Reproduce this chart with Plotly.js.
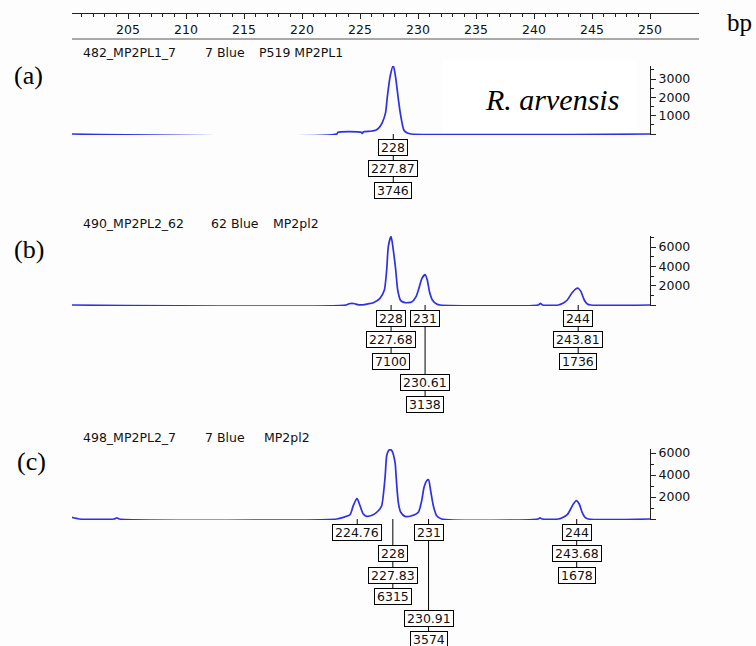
<!DOCTYPE html>
<html><head><meta charset="utf-8">
<script src="https://cdn.plot.ly/plotly-3.0.1.min.js"></script>
<style>html,body{margin:0;padding:0;background:#fdfdfd}</style>
</head><body><div id="chart" style="width:756px;height:646px"></div>
<script>
// ---------------- data ----------------
const rulerTicks = [205, 210, 215, 220, 225, 230, 235, 240, 245, 250];

// (a) 482_MP2PL1_7
const headerA = ['482_MP2PL1_7', '7 Blue', 'P519 MP2PL1'];
const traceXA = [200.17, 223.0, 223.1, 225.1, 225.2, 225.3, 225.9, 226.35, 226.65, 226.92, 227.2, 227.36, 227.6, 227.87, 228.08, 228.28, 228.5, 228.78, 229.08, 229.4, 250.0];
const traceYA = [0, 0, 100, 100, 30, 120, 150, 200, 350, 620, 1150, 2050, 3150, 3746, 3050, 2030, 1040, 220, 50, 0, 0];
const sizesA = [227.87];
const binsA = ['228'];
const heightsA = [3746];
const yTicksA = [0, 1000, 2000, 3000];
const yMinorA = [500, 1500, 2500, 3500];

// (b) 490_MP2PL2_62
const headerB = ['490_MP2PL2_62', '62 Blue', 'MP2pl2'];
const traceXB = [200.17, 223.8, 224.05, 224.3, 224.55, 224.8, 225.2, 225.7, 226.15, 226.72, 227.1, 227.3, 227.44, 227.68, 227.87, 228.08, 228.25, 228.51, 228.88, 229.46, 229.83, 230.12, 230.34, 230.61, 230.8, 230.99, 231.24, 231.61, 231.9, 240.35, 240.55, 240.75, 242.1, 242.45, 242.87, 243.25, 243.55, 243.81, 244.05, 244.33, 244.6, 244.9, 250.0];
const traceYB = [0, 0, 130, 170, 130, 30, 20, 120, 240, 690, 1550, 3620, 6030, 7100, 5690, 3620, 1550, 450, 240, 310, 860, 1900, 2760, 3138, 2590, 1380, 520, 100, 0, 0, 170, 0, 0, 150, 520, 1210, 1620, 1736, 1380, 520, 100, 0, 0];
const sizesB = [227.68, 230.61, 243.81];
const binsB = ['228', '231', '244'];
const heightsB = [7100, 3138, 1736];
const yTicksB = [0, 2000, 4000, 6000];
const yMinorB = [1000, 3000, 5000, 7000];

// (c) 498_MP2PL2_7
const headerC = ['498_MP2PL2_7', '7 Blue', 'MP2pl2'];
const traceXC = [200.17, 200.8, 203.8, 204.03, 204.25, 223.0, 223.56, 224.14, 224.42, 224.74, 225.0, 225.28, 225.57, 226.09, 226.58, 226.87, 227.16, 227.3, 227.45, 227.6, 227.75, 228.02, 228.16, 228.3, 228.51, 228.88, 229.46, 230.03, 230.32, 230.52, 230.75, 230.91, 231.09, 231.32, 231.61, 232.04, 240.35, 240.52, 240.7, 242.1, 242.39, 242.87, 243.16, 243.39, 243.65, 243.9, 244.15, 244.4, 244.68, 250.0];
const traceYC = [150, 0, 0, 100, 0, 0, 150, 390, 1210, 1880, 1210, 450, 240, 360, 750, 1210, 3790, 5750, 6200, 6315, 6200, 5150, 3180, 1520, 610, 240, 300, 610, 1660, 2880, 3480, 3574, 2570, 1210, 300, 0, 0, 100, 0, 0, 90, 390, 910, 1360, 1678, 1360, 610, 140, 0, 0];
const sizesC = [224.76, 227.83, 230.91, 243.68];
const binsC = [null, '228', '231', '244'];
const heightsC = [null, 6315, 3574, 1678];
const yTicksC = [0, 2000, 4000, 6000];
const yMinorC = [1000, 3000, 5000];

const panelLetters = ['(a)', '(b)', '(c)'];
const speciesLabel = 'R. arvensis';
const unitLabel = 'bp';

// ---------------- layout helpers ----------------
const W = 756, H = 646;
const fx = px => px / W;
const fy = px => 1 - px / H;
const bpAt = px => 205 + (px - 128) / 11.6;

const SMALL = {family: 'DejaVu Sans, sans-serif', size: 12.5, color: '#111'};
const SERIF = 'Liberation Serif, Times New Roman, serif';
const LINE = '#2f2fe6';
const AXC = '#222';

// panel geometry (rows: [bin, size, height] label row indices)
const panels = [
  {axis: 'y2', base: 134, per1000: 18.33, top: 66, headerY: 52, headerX: [81, 203, 257], letterXY: [28, 75],
   tx: traceXA, ty: traceYA, sizes: sizesA, bins: binsA, heights: heightsA, header: headerA,
   ticks: yTicksA, minor: yMinorA, rows: [[0, 1, 2]]},
  {axis: 'y3', base: 305, per1000: 9.667, top: 236, headerY: 223, headerX: [81, 209, 271], letterXY: [29, 249],
   tx: traceXB, ty: traceYB, sizes: sizesB, bins: binsB, heights: heightsB, header: headerB,
   ticks: yTicksB, minor: yMinorB, rows: [[0, 1, 2], [0, 3, 4], [0, 1, 2]]},
  {axis: 'y4', base: 519, per1000: 11.0, top: 449, headerY: 437, headerX: [81, 203, 262], letterXY: [31, 461],
   tx: traceXC, ty: traceYC, sizes: sizesC, bins: binsC, heights: heightsC, header: headerC,
   ticks: yTicksC, minor: yMinorC, rows: [[null, 0, null], [1, 2, 3], [0, 4, 5], [0, 1, 2]]}
];

const ROW0 = 13.3, ROWSTEP = 21.5;

const data = [];
const annotations = [];
const shapes = [];
const layout = {
  width: W, height: H,
  margin: {l: 0, r: 0, t: 0, b: 0},
  paper_bgcolor: '#fdfdfd', plot_bgcolor: 'rgba(0,0,0,0)',
  showlegend: false,
  xaxis: {
    domain: [fx(72), fx(699)], range: [bpAt(72), bpAt(699)],
    anchor: 'free', position: fy(13), side: 'bottom',
    showline: true, linecolor: AXC, linewidth: 1,
    ticks: 'outside', ticklen: 5, tickcolor: AXC, tickwidth: 1,
    tickmode: 'array', tickvals: rulerTicks, ticktext: rulerTicks.map(String),
    minor: {tickmode: 'array', tickvals: [], ticks: 'outside', ticklen: 3, tickcolor: AXC, tickwidth: 1, showgrid: false},
    showgrid: false, zeroline: false, tickfont: SMALL, fixedrange: true
  },
  annotations, shapes
};
// minor ruler ticks every 1 bp between first and last major tick
for (let v = rulerTicks[0] - 4; v <= rulerTicks[rulerTicks.length - 1]; v++) {
  if (rulerTicks.indexOf(v) < 0) layout.xaxis.minor.tickvals.push(v);
}

// line under the ruler
shapes.push({type: 'line', xref: 'paper', yref: 'paper', x0: fx(72), x1: fx(699), y0: fy(39), y1: fy(39),
  line: {color: '#555', width: 1}});

panels.forEach((p, i) => {
  const unitsPerPx = 1000 / p.per1000;
  const lo = -unitsPerPx * 1;
  const hi = (p.base - p.top) * unitsPerPx;
  const ax = 'yaxis' + p.axis.slice(1);
  layout[ax] = {
    domain: [fy(p.base + 1), fy(p.top)], range: [lo, hi],
    anchor: 'free', position: fx(650), side: 'right',
    showline: true, linecolor: AXC, linewidth: 1,
    ticks: 'outside', ticklen: 5, tickcolor: AXC,
    tickmode: 'array', tickvals: p.ticks, ticktext: p.ticks.map(v => v === 0 ? '' : String(v)),
    minor: {tickmode: 'array', tickvals: p.minor, ticks: 'outside', ticklen: 3, tickcolor: AXC, showgrid: false},
    showgrid: false, zeroline: false, tickfont: SMALL, fixedrange: true
  };
  data.push({type: 'scatter', mode: 'lines', x: p.tx, y: p.ty, xaxis: 'x', yaxis: p.axis,
    line: {color: LINE, width: 1.7, shape: 'spline', smoothing: 0.6}, hoverinfo: 'skip'});

  // header
  p.header.forEach((t, k) => annotations.push({text: t, xref: 'paper', yref: 'paper', x: fx(p.headerX[k]), y: fy(p.headerY),
    xanchor: 'left', yanchor: 'middle', showarrow: false, font: SMALL}));
  // panel letter
  annotations.push({text: panelLetters[i], xref: 'paper', yref: 'paper', x: fx(p.letterXY[0]), y: fy(p.letterXY[1]),
    xanchor: 'center', yanchor: 'middle', showarrow: false, font: {family: SERIF, size: 26, color: '#000'}});

  // peak labels
  p.sizes.forEach((s, k) => {
    const rows = p.rows[k];
    const texts = [p.bins[k], s.toFixed(2), p.heights[k] == null ? null : String(p.heights[k])];
    let maxRow = 0;
    texts.forEach((t, j) => {
      if (t == null || rows[j] == null) return;
      maxRow = Math.max(maxRow, rows[j]);
      annotations.push({text: t, xref: 'x', yref: 'paper', x: s, y: fy(p.base + ROW0 + rows[j] * ROWSTEP),
        xanchor: 'center', yanchor: 'middle', showarrow: false, font: SMALL,
        bgcolor: '#fff', bordercolor: '#000', borderwidth: 1, borderpad: 2, height: 11});
    });
    shapes.push({type: 'line', xref: 'x', yref: 'paper', x0: s, x1: s,
      y0: fy(p.base), y1: fy(p.base + ROW0 + maxRow * ROWSTEP), line: {color: '#000', width: 1}, layer: 'above'});
  });
});

// species label with white box
shapes.push({type: 'rect', xref: 'paper', yref: 'paper', x0: fx(442), x1: fx(637), y0: fy(132), y1: fy(60),
  fillcolor: '#fff', line: {width: 0}, layer: 'below'});
annotations.push({text: '<i>' + speciesLabel + '</i>', xref: 'paper', yref: 'paper', x: fx(552), y: fy(99),
  xanchor: 'center', yanchor: 'middle', showarrow: false, font: {family: SERIF, size: 30, color: '#000'}});
annotations.push({text: unitLabel, xref: 'paper', yref: 'paper', x: fx(739), y: fy(23),
  xanchor: 'center', yanchor: 'middle', showarrow: false, font: {family: SERIF, size: 25, color: '#000'}});

Plotly.newPlot('chart', data, layout, {displayModeBar: false, staticPlot: true});
</script></body></html>
